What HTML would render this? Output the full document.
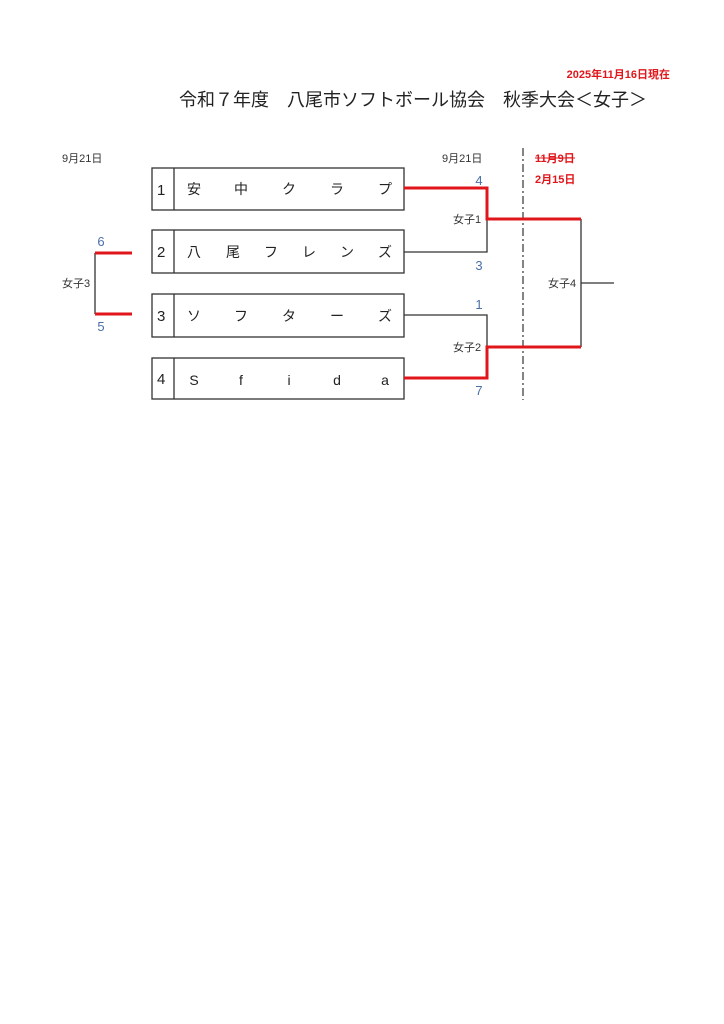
<!DOCTYPE html>
<html><head><meta charset="utf-8"><style>body{margin:0;background:#fff}svg{display:block}</style></head><body>
<svg width="724" height="1024" xmlns="http://www.w3.org/2000/svg" font-family="Liberation Sans, Noto Sans CJK JP, sans-serif">
<rect width="724" height="1024" fill="#fff"/>
<text x="670" y="78" font-size="11" font-weight="bold" fill="#e0161b" text-anchor="end">2025年11月16日現在</text>
<text x="413" y="106" font-size="18" fill="#222" text-anchor="middle">令和７年度　八尾市ソフトボール協会　秋季大会＜女子＞</text>
<text x="62" y="162" font-size="11" fill="#333">9月21日</text>
<text x="442" y="162" font-size="11" fill="#333">9月21日</text>
<text x="535" y="162" font-size="11" font-weight="bold" fill="#e0161b">11月9日</text>
<line x1="535" y1="158" x2="575" y2="158" stroke="#e0161b" stroke-width="1"/>
<text x="535" y="183" font-size="11" font-weight="bold" fill="#e0161b">2月15日</text>
<g fill="none" stroke="#333" stroke-width="1.3">
<rect x="152" y="168" width="252" height="42"/><line x1="174" y1="168" x2="174" y2="210"/>
<rect x="152" y="230" width="252" height="43"/><line x1="174" y1="230" x2="174" y2="273"/>
<rect x="152" y="294" width="252" height="43"/><line x1="174" y1="294" x2="174" y2="337"/>
<rect x="152" y="358" width="252" height="41"/><line x1="174" y1="358" x2="174" y2="399"/>
<polyline points="404,252 487,252 487,219"/>
<polyline points="404,315 487,315 487,347"/>
<polyline points="581,219 581,347"/>
<line x1="581" y1="283" x2="614" y2="283"/>
<line x1="95" y1="253" x2="95" y2="314"/>
</g>
<line x1="523" y1="148" x2="523" y2="400" stroke="#333" stroke-width="1.2" stroke-dasharray="8,3,2,3"/>
<g fill="none" stroke="#e0161b" stroke-width="3">
<polyline points="404,188 487,188 487,219 581,219"/>
<polyline points="404,378 487,378 487,347 581,347"/>
<line x1="95" y1="253" x2="132" y2="253"/>
<line x1="95" y1="314" x2="132" y2="314"/>
</g>
<g font-size="15" fill="#222">
<text x="157" y="195">1</text><text x="157" y="257">2</text><text x="157" y="321">3</text><text x="157" y="384">4</text>
</g>
<g font-size="14" fill="#222" text-anchor="middle">
<text x="194" y="194">安</text><text x="241" y="194">中</text><text x="289" y="194">ク</text><text x="337" y="194">ラ</text><text x="385" y="194">プ</text>
<text x="194" y="257">八</text><text x="233" y="257">尾</text><text x="271" y="257">フ</text><text x="309" y="257">レ</text><text x="347" y="257">ン</text><text x="385" y="257">ズ</text>
<text x="194" y="321">ソ</text><text x="241" y="321">フ</text><text x="289" y="321">タ</text><text x="337" y="321">ー</text><text x="385" y="321">ズ</text>
<text x="194" y="385">S</text><text x="241" y="385">f</text><text x="289" y="385">i</text><text x="337" y="385">d</text><text x="385" y="385">a</text>
</g>
<g font-size="13" fill="#4a6fa8" text-anchor="middle">
<text x="101" y="246">6</text><text x="101" y="331">5</text>
<text x="479" y="185">4</text><text x="479" y="270">3</text><text x="479" y="309">1</text><text x="479" y="395">7</text>
</g>
<g font-size="11" fill="#333">
<text x="62" y="287">女子3</text>
<text x="453" y="223">女子1</text>
<text x="453" y="351">女子2</text>
<text x="548" y="287">女子4</text>
</g>
</svg>
</body></html>
